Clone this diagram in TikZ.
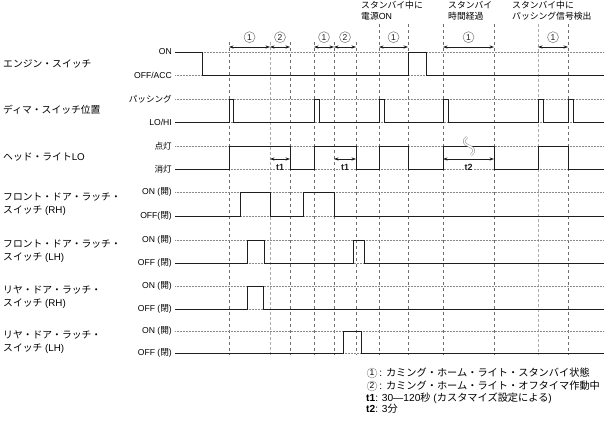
\documentclass[tikz,border=0pt]{standalone}
\usepackage{fontspec}
\setmainfont{Liberation Sans}
\newfontfamily\jp{Noto Sans CJK JP}
\usetikzlibrary{arrows.meta,positioning}
\definecolor{sigline}{HTML}{1E1E1E}
\definecolor{gridgray}{HTML}{8A8A8A}
\definecolor{markgray}{HTML}{6E6E6E}

\begin{document}
\begin{tikzpicture}[
  x=1pt, y=-1pt,
  rowlabel/.style={anchor=west, align=left, inner sep=0pt,
                   font=\fontsize{9.8}{13.5}\selectfont},
  levlabel/.style={anchor=east, inner sep=0pt, font=\fontsize{8.6}{10}\selectfont},
  toplabel/.style={anchor=north west, align=left, inner sep=0pt,
                   font=\fontsize{8.8}{11}\selectfont},
  legend/.style={anchor=west, inner sep=0pt, font=\fontsize{10.2}{12}\selectfont},
  refline/.style={densely dotted, gridgray, line width=0.5pt},
  sig/.style={sigline, line width=0.9pt},
  marker/.style={dashed, markgray, line width=0.5pt},
  softmarker/.style={densely dashed, gridgray!70, line width=0.6pt},
  span/.style={{Stealth[length=4.5pt,width=3.2pt]}-{Stealth[length=4.5pt,width=3.2pt]},
               sigline, line width=0.6pt},
  num/.style={circle, draw=gridgray, inner sep=0pt, minimum size=11pt,
              font=\fontsize{8.5}{9}\selectfont},
  tlabel/.style={fill=white, inner sep=1pt, font=\fontsize{9}{9}\selectfont\bfseries}
]
  \useasboundingbox (0,0) rectangle (604,421);

  %% time markers
  \foreach \n/\x/\top/\sty in {1/229/42/marker, 2/270/42/softmarker, 3/290/42/marker,
      4/314/42/marker, 5/334/42/marker, 6/356/42/marker, 7/379/24/marker,
      8/408/24/marker, 9/443/24/marker, 10/494/24/marker, 11/538/24/softmarker,
      12/568/24/marker} {
    \coordinate (m\n) at (\x,47);
    \draw[\sty] (\x,\top) -- (\x,355);
  }

  %% row names
  \node[rowlabel] (eng)  at (3,64)  {{\jp エンジン・スイッチ}};
  \node[rowlabel] (dim)  at (3,110) {{\jp ディマ・スイッチ位置}};
  \node[rowlabel] (head) at (3,157) {{\jp ヘッド・ライト}LO};
  \node[rowlabel] (frh)  at (3,204) {{\jp フロント・ドア・ラッチ・}\\{\jp スイッチ} (RH)};
  \node[rowlabel] (flh)  at (3,251) {{\jp フロント・ドア・ラッチ・}\\{\jp スイッチ} (LH)};
  \node[rowlabel] (rrh)  at (3,297) {{\jp リヤ・ドア・ラッチ・}\\{\jp スイッチ} (RH)};
  \node[rowlabel] (rlh)  at (3,342) {{\jp リヤ・ドア・ラッチ・}\\{\jp スイッチ} (LH)};

  %% levels
  \foreach \name/\y/\txt in {eng-on/52/ON, eng-off/75/{OFF/ACC},
      dim-pass/99/{{\jp パッシング}}, dim-lo/122/{LO/HI},
      head-on/146/{{\jp 点灯}}, head-off/169/{{\jp 消灯}},
      frh-on/192/{ON ({\jp 開})}, frh-off/216/{OFF({\jp 閉})},
      flh-on/240/{ON ({\jp 開})}, flh-off/263/{OFF ({\jp 閉})},
      rrh-on/286/{ON ({\jp 開})}, rrh-off/309/{OFF ({\jp 閉})},
      rlh-on/331/{ON ({\jp 開})}, rlh-off/353/{OFF ({\jp 閉})}} {
    \node[levlabel] (\name) at (172,\y) {\txt};
    \draw[refline] (175,\y) -- (604,\y);
  }

  %% signals
  \draw[sig] (175,52) -| (202,75) -| (408,52) -| (426,75) -- (604,75);
  \draw[sig] (175,122) -| (229,99) -| (233,122) -| (314,99) -| (319,122)
    -| (379,99) -| (384,122) -| (443,99) -| (448,122) -| (538,99) -| (543,122)
    -| (568,99) -| (573,122) -- (604,122);
  \draw[sig] (175,169) -| (229,146) -| (290,169) -| (314,146) -| (356,169)
    -| (379,146) -| (408,169) -| (443,146) -| (494,169) -| (538,146)
    -| (568,169) -- (604,169);
  \draw[sig] (175,216) -| (240,192) -| (270,216) -| (303,192) -| (334,216) -- (604,216);
  \draw[sig] (175,263) -| (247,240) -| (264,263) -| (353,240) -| (364,263) -- (604,263);
  \draw[sig] (175,309) -| (247,286) -| (263,309) -- (604,309);
  \draw[sig] (175,353) -| (343,331) -| (361,353) -- (604,353);

  %% states
  \draw[span] (m1) -- node[num, above=4pt] (st1) {1} (m2);
  \draw[span] (m2) -- node[num, above=4pt] (st2) {2} (m3);
  \draw[span] (m4) -- node[num, above=4pt] (st3) {1} (m5);
  \draw[span] (m5) -- node[num, above=4pt] (st4) {2} (m6);
  \draw[span] (m7) -- node[num, above=4pt] (st5) {1} (m8);
  \draw[span] (m9) -- node[num, above=4pt] (st6) {1} (m10);
  \draw[span] (m11) -- node[num, above=4pt] (st7) {1} (m12);

  %% timers
  \coordinate (t1a) at (270,159);
  \coordinate (t1b) at (290,159);
  \coordinate (t1c) at (334,159);
  \coordinate (t1d) at (356,159);
  \coordinate (t2a) at (443,159);
  \coordinate (t2b) at (494,159);
  \draw[span] (t1a) -- node[tlabel, below=4pt] (lt1a) {t1} (t1b);
  \draw[span] (t1c) -- node[tlabel, below=4pt] (lt1b) {t1} (t1d);
  \draw[span] (t2a) -- node[tlabel, below=4pt] (lt2) {t2} (t2b);
  \draw[gridgray, line width=0.5pt, double=white, double distance=1.4pt]
    (467,137) .. controls (462,141) and (464,144) .. (469,146)
    .. controls (474,148) and (476,151) .. (471,155);

  %% events
  \node[toplabel] (ev-on)   at (361,1) {{\jp スタンバイ中に}\\{\jp 電源}ON};
  \node[toplabel] (ev-time) at (448,1) {{\jp スタンバイ}\\{\jp 時間経過}};
  \node[toplabel] (ev-pass) at (512,1) {{\jp スタンバイ中に}\\{\jp パッシング信号検出}};

  %% legend
  \node[num, minimum size=10pt] (key1) at (372,373) {1};
  \node[legend, right=2pt of key1] (key1txt) {: {\jp カミング・ホーム・ライト・スタンバイ状態}};
  \node[num, minimum size=10pt] (key2) at (372,386) {2};
  \node[legend, right=2pt of key2] (key2txt) {: {\jp カミング・ホーム・ライト・オフタイマ作動中}};
  \node[legend] (keyt1) at (366,398) {\textbf{t1}: 30---120{\jp 秒} ({\jp カスタマイズ設定による})};
  \node[legend] (keyt2) at (366,409) {\textbf{t2}: 3{\jp 分}};
\end{tikzpicture}
\end{document}
